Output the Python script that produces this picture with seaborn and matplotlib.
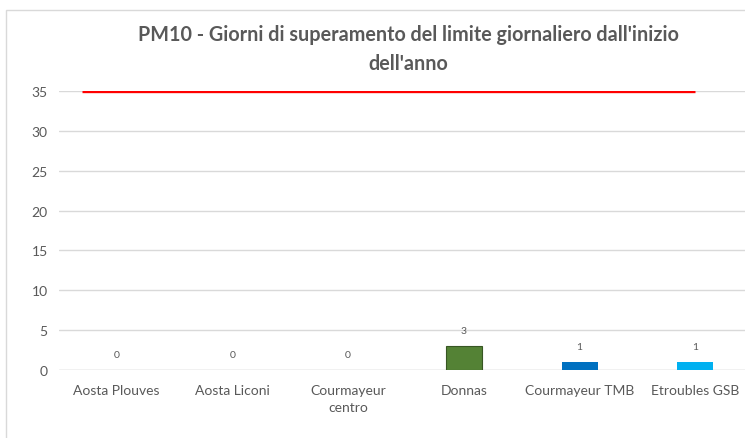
import matplotlib
matplotlib.use("Agg")
import matplotlib.pyplot as plt
import seaborn as sns
import pandas as pd
from matplotlib.patches import Rectangle

stations = ["Aosta Plouves", "Aosta Liconi", "Courmayeur\ncentro", "Donnas",
            "Courmayeur TMB", "Etroubles GSB"]
days_over = [0, 0, 0, 3, 1, 1]
bar_colors = ["#4472C4", "#ED7D31", "#A5A5A5", "#548235", "#0070C0", "#00B0F0"]
limit_days = 35
y_ticks = [0, 5, 10, 15, 20, 25, 30, 35]

title = "PM10 - Giorni di superamento del limite giornaliero dall'inizio\ndell'anno"

sns.set_style("white")
plt.rcParams["font.family"] = ["Lato", "DejaVu Sans"]
txt_color = "#595959"

df = pd.DataFrame({"station": stations, "days": days_over})

fig = plt.figure(figsize=(7.45, 4.39), dpi=100)
ax = fig.add_axes([0.079, 0.155, 0.932, 0.635])

sns.barplot(data=df, x="station", y="days", hue="station", palette=bar_colors,
            saturation=1, legend=False, width=0.31, edgecolor="none", ax=ax,
            zorder=3)
# dark outline on the Donnas bar like the original
ax.patches[3].set_edgecolor("#375623")
ax.patches[3].set_linewidth(0.8)

ax.hlines(limit_days, -0.3, len(stations) - 1, color="#FF0000", lw=2.4, zorder=4)

for i, v in enumerate(days_over):
    ax.annotate(str(v), (i, v), xytext=(0, 8), textcoords="offset points",
                ha="center", va="bottom", fontsize=7.5, color=txt_color)

ax.set_ylim(0, 35)
ax.set_xlim(-0.5, len(stations) - 0.5)
ax.set_yticks(y_ticks)
ax.yaxis.grid(True, color="#d9d9d9", lw=1, zorder=0)
ax.set_axisbelow(True)
for s in ax.spines.values():
    s.set_visible(False)
ax.axhline(0, color="#d9d9d9", lw=1, zorder=2)
ax.tick_params(axis="both", length=0, labelsize=10, colors=txt_color, pad=8)
ax.tick_params(axis="x", pad=10)
for lab in ax.get_xticklabels():
    lab.set_linespacing(1.55)
ax.set_xlabel("")
ax.set_ylabel("")

fig.text(0.548, 0.888, title, ha="center", va="center", fontsize=14.2,
         fontweight="bold", color=txt_color, linespacing=1.55)

fig.patches.append(Rectangle((6 / 745, -0.05), 1.1, 1 - 11 / 439 + 0.05,
                             transform=fig.transFigure, fill=False,
                             edgecolor="#d9d9d9", lw=1))

fig.savefig("out.png", dpi=100)
